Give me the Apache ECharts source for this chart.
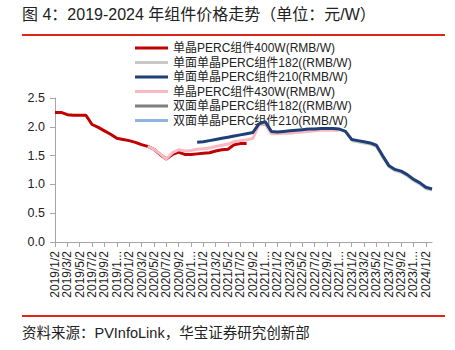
<!DOCTYPE html>
<html>
<head>
<meta charset="utf-8">
<script src="https://cdn.jsdelivr.net/npm/echarts@6/dist/echarts.min.js"></script>
<style>
html,body{margin:0;padding:0;background:#fff;}
#c{width:455px;height:350px;}
</style>
</head>
<body>
<div id="c"></div>
<script>
// Monthly categories 2019/1/2 .. 2024/2/2
var categories = [
"2019/1/2","2019/2/2","2019/3/2","2019/4/2","2019/5/2","2019/6/2","2019/7/2","2019/8/2","2019/9/2","2019/10/2","2019/11/2","2019/12/2",
"2020/1/2","2020/2/2","2020/3/2","2020/4/2","2020/5/2","2020/6/2","2020/7/2","2020/8/2","2020/9/2","2020/10/2","2020/11/2","2020/12/2",
"2021/1/2","2021/2/2","2021/3/2","2021/4/2","2021/5/2","2021/6/2","2021/7/2","2021/8/2","2021/9/2","2021/10/2","2021/11/2","2021/12/2",
"2022/1/2","2022/2/2","2022/3/2","2022/4/2","2022/5/2","2022/6/2","2022/7/2","2022/8/2","2022/9/2","2022/10/2","2022/11/2","2022/12/2",
"2023/1/2","2023/2/2","2023/3/2","2023/4/2","2023/5/2","2023/6/2","2023/7/2","2023/8/2","2023/9/2","2023/10/2","2023/11/2","2023/12/2",
"2024/1/2","2024/2/2"
];
var N = null;
var mono400 = [2.25,2.25,2.21,2.20,2.20,2.20,2.04,1.99,1.93,1.87,1.80,1.78,
  1.76,1.73,1.69,1.66,1.61,1.52,1.44,1.52,1.56,1.52,1.52,1.53,
  1.54,1.55,1.58,1.60,1.61,1.69,1.71,1.71];
var mono182 = [N,N,N,N,N,N,N,N,N,N,N,N, N,N,N,N,N,N,N,N,N,N,N,N,
  N,N,N,N,N,N,N,N,N,N,N,N, N,N,N,N,N,N,N,N,N,N,N,N,
  1.76,1.74,1.72,1.70,1.66,1.48,1.31,1.24,1.21,1.15,1.07,1.01,0.93,0.90];
var mono210 = [N,N,N,N,N,N,N,N,N,N,N,N, N,N,N,N,N,N,N,N,N,N,N,1.73,
  1.74,1.76,1.78,1.80,1.82,1.84,1.86,1.88,1.90,2.05,2.09,1.92,
  1.91,1.92,1.93,1.94,1.95,1.96,1.96,1.97,1.97,1.97,1.96,1.92,
  1.78,1.76,1.74,1.72,1.68,1.50,1.33,1.26,1.23,1.17,1.09,1.03,0.95,0.92];
var mono430 = [N,N,N,N,N,N,N,N,N,N,N,N, N,N,N,1.66,1.61,1.53,1.44,1.55,1.60,1.58,1.59,1.61,
  1.62,1.63,1.66,1.68,1.70,1.74,1.76,1.77,1.80,2.03,2.05,1.88,
  1.88,1.89,1.89,1.90,1.91,1.92,1.93,1.94,1.94,1.94,1.94];
var bi182 = [];
var bi210 = [];
var yTicks = [0, 0.5, 1.0, 1.5, 2.0, 2.5];

var names = ["单晶PERC组件400W(RMB/W)","单面单晶PERC组件182((RMB/W)","单面单晶PERC组件210(RMB/W)","单晶PERC组件430W(RMB/W)","双面单晶PERC组件182((RMB/W)","双面单晶PERC组件210(RMB/W)"];
var colors = ["#C00000","#C8C8C8","#1F3F77","#F8B9C0","#7F7F7F","#8DB4E2"];
var datas = [mono400, mono182, mono210, mono430, bi182, bi210];
var zs = [2,2,4,3,2,2];

var chart = echarts.init(document.getElementById('c'), null, {renderer:'svg'});
var series = names.map(function(n,i){
  return {name:n,type:'line',data:datas[i],symbol:'none',showSymbol:false,
    lineStyle:{width:3,color:colors[i]},itemStyle:{color:colors[i]},z:zs[i],connectNulls:false,animation:false};
});
function everyOther(idx){ return idx % 2 === 0; }
chart.setOption({
  animation:false,
  backgroundColor:'#fff',
  title:{text:'图 4：2019-2024 年组件价格走势（单位：元/W）',left:22,top:6,padding:0,
    textStyle:{fontSize:16,fontWeight:'normal',color:'#222',fontFamily:'Liberation Sans, "Noto Sans CJK SC", sans-serif'}},
  graphic:[
    {type:'line',shape:{x1:22,y1:35,x2:445,y2:35},style:{stroke:'#E2231A',lineWidth:2},silent:true},
    {type:'line',shape:{x1:22,y1:316,x2:445,y2:316},style:{stroke:'#E2231A',lineWidth:2},silent:true},
    {type:'text',left:22,top:326,style:{text:'资料来源：PVInfoLink，华宝证券研究创新部',fontSize:14.5,fill:'#222',
      fontFamily:'Liberation Sans, "Noto Sans CJK SC", sans-serif'}}
  ],
  legend:{orient:'vertical',left:135,top:41,padding:0,itemWidth:33,itemHeight:3,itemGap:0.5,icon:'rect',z:1,
    data:names,textStyle:{fontSize:12,lineHeight:14,color:'#222',fontFamily:'Liberation Sans, "Noto Sans CJK SC", sans-serif'}},
  grid:{left:55,right:23,top:98,bottom:108,containLabel:false},
  xAxis:{type:'category',data:categories,boundaryGap:false,
    axisLine:{lineStyle:{color:'#A6A6A6',width:1}},
    axisTick:{show:true,interval:everyOther,length:5,lineStyle:{color:'#A6A6A6'}},
    axisLabel:{interval:everyOther,rotate:90,margin:9,fontSize:12,lineHeight:11,color:'#222',fontFamily:'Liberation Sans, Arial, sans-serif',
      showMinLabel:true,hideOverlap:false,
      formatter:function(v){return v.length>8? v.slice(0,6)+'...' : v;}},
    splitLine:{show:false}},
  yAxis:{type:'value',min:yTicks[0],max:yTicks[yTicks.length-1],interval:0.5,
    axisLine:{show:true,lineStyle:{color:'#A6A6A6',width:1}},
    axisTick:{show:true,length:5,lineStyle:{color:'#A6A6A6'}},
    axisLabel:{margin:10,fontSize:12.5,color:'#222',fontFamily:'Liberation Sans, Arial, sans-serif',
      showMinLabel:true,showMaxLabel:true,hideOverlap:false,
      formatter:function(v){return v.toFixed(1);}},
    splitLine:{show:false}},
  series:series
});
</script>
</body>
</html>
